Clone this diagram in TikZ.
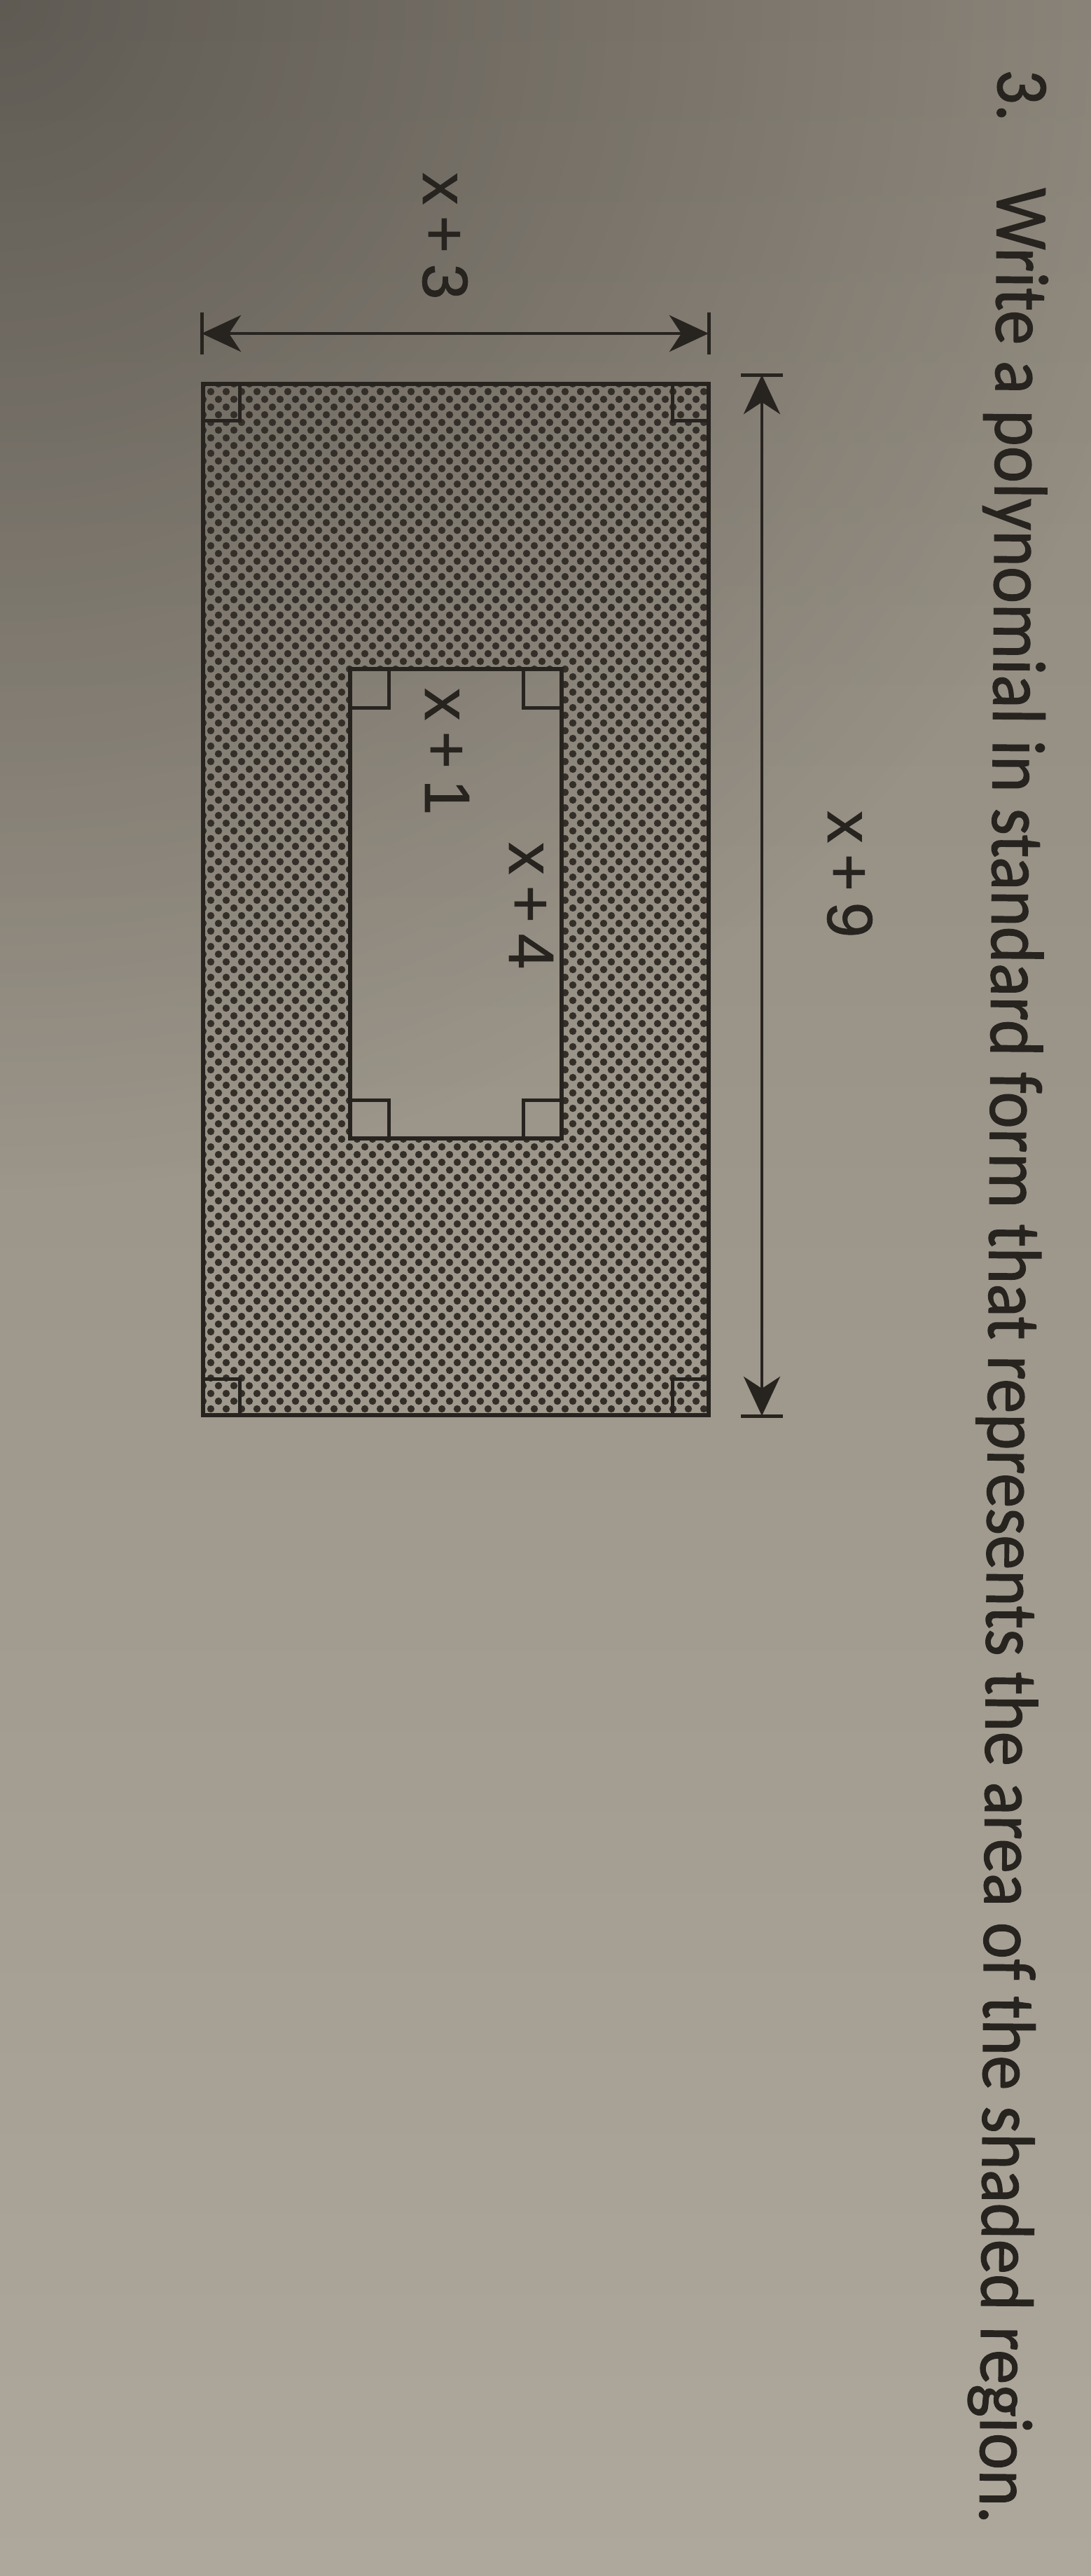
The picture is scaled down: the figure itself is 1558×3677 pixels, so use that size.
\documentclass[tikz,border=0pt]{standalone}
\usepackage{fontspec}
\usepackage{graphicx}
\usetikzlibrary{arrows.meta,fadings}
\newfontfamily\qfont[FakeBold=1.2]{Carlito}
\newfontfamily\lfont[FakeBold=1.0]{Liberation Sans}
\definecolor{ink}{HTML}{27231F}
\definecolor{papertop}{HTML}{8E877C}
\definecolor{papermid}{HTML}{9C958A}
\definecolor{paperbot}{HTML}{AEA89C}
\definecolor{dotc}{HTML}{332E28}
\tikzfading[name=cornerfade, inner color=transparent!0, outer color=transparent!100]
\newcommand{\paperbg}{%
  \shade[top color=papertop, middle color=papermid, bottom color=paperbot] (0,0) rectangle (1558,3677);
  \fill[black, opacity=0.33, path fading=cornerfade] (0,0) circle (1700);
}
\begin{document}
\begin{tikzpicture}[x=0.01cm,y=-0.01cm,
  edge/.style={draw=ink, line width=0.065cm},
  corner/.style={draw=ink, line width=0.05cm},
  dim/.style={draw=ink, line width=0.048cm,
    {Stealth[length=0.56cm,width=0.52cm,inset=0.17cm]}-{Stealth[length=0.56cm,width=0.52cm,inset=0.17cm]}},
  tick/.style={draw=ink, line width=0.05cm},
  lbl/.style={font=\lfont\fontsize{26pt}{28pt}\selectfont, text=ink, rotate=-90, anchor=base, inner sep=0pt},
  qtext/.style={font=\qfont\fontsize{28pt}{30pt}\selectfont, text=ink, rotate=-90.43, anchor=base west, inner sep=0pt}
]
\useasboundingbox (0,0) rectangle (1558,3677);
\paperbg

% shaded region: dots
\begin{scope}
  \clip (290,548) rectangle (1012,2020);
  \foreach \r in {0,...,134}{
    \pgfmathtruncatemacro\off{mod(\r,2)*11}
    \foreach \c in {0,...,33}{
      \fill[dotc] ({290+\off+22*\c},{548+11*\r}) circle (5.2);
    }
  }
\end{scope}
% inner (unshaded) rectangle
\begin{scope}
  \clip (500,955) rectangle (802,1625);
  \paperbg
\end{scope}

% outer rectangle
\coordinate (oTL) at (290,548);
\coordinate (oBR) at (1012,2020);
\draw[edge] (oTL) rectangle (oBR);
\draw[corner] (290,600) -| (342,548);
\draw[corner] (960,548) |- (1012,600);
\draw[corner] (290,1968) -| (342,2020);
\draw[corner] (960,2020) |- (1012,1968);

% inner rectangle
\coordinate (iTL) at (500,955);
\coordinate (iBR) at (802,1625);
\draw[edge] (iTL) rectangle (iBR);
\draw[corner] (500,1010) -| (555,955);
\draw[corner] (747,955) |- (802,1010);
\draw[corner] (500,1570) -| (555,1625);
\draw[corner] (747,1625) |- (802,1570);

% dimension x+3
\coordinate (h1) at (288,476);
\coordinate (h2) at (1012,476);
\draw[dim] (h1) -- (h2);
\draw[tick] (288,446) -- (288,506);
\draw[tick] (1012,446) -- (1012,506);

% dimension x+9
\coordinate (v1) at (1088,535);
\coordinate (v2) at (1088,2021);
\draw[dim] (v1) -- (v2);
\draw[tick] (1058,535) -- (1118,535);
\draw[tick] (1058,2021) -- (1118,2021);

% labels
\node[lbl] (l9) at (1182,1248) {x\hspace{0.17em}+\hspace{0.17em}9};
\node[lbl] (l3) at (604,337) {x\hspace{0.17em}+\hspace{0.17em}3};
\node[lbl] (l1) at (607,1073) {x\hspace{0.17em}+\hspace{0.17em}1};
\node[lbl] (l4) at (727,1293) {x\hspace{0.17em}+\hspace{0.17em}4};

% question
\node[qtext] (num) at (1425,98) {\scalebox{1}[1.08]{3.}};
\node[qtext] (q) at (1424,267) {\scalebox{1}[1.08]{\resizebox{33.33cm}{!}{Write a polynomial in standard form that represents the area of the shaded region.}}};
\end{tikzpicture}
\end{document}
